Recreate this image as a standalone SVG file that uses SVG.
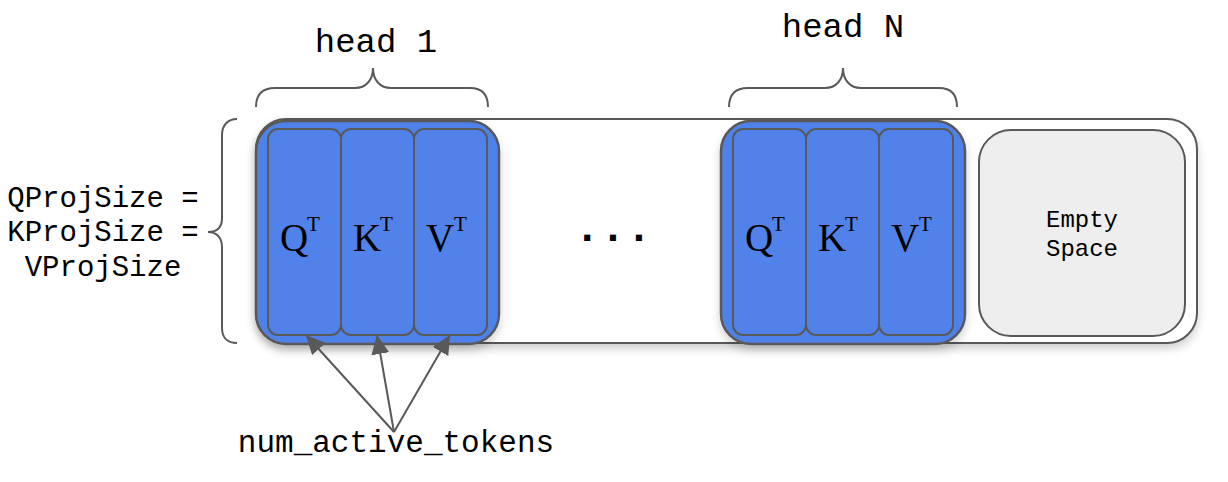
<svg xmlns="http://www.w3.org/2000/svg" width="1228" height="482" viewBox="0 0 1228 482">
<defs>
<filter id="sh" x="-10%" y="-10%" width="120%" height="130%">
<feDropShadow dx="0" dy="5" stdDeviation="4" flood-color="#000" flood-opacity="0.18"/>
</filter>
<marker id="ah" markerUnits="userSpaceOnUse" markerWidth="22" markerHeight="18" refX="19" refY="9" orient="auto">
<path d="M0,0 L19,9 L0,18 Z" fill="#595959"/>
</marker>
<style>
.st{stroke:#595959;stroke-width:2;}
.grp{fill:#5082e9;stroke:#595959;stroke-width:2.5;}
.cell{fill:#5082e9;stroke:#595959;stroke-width:2;}
.brace{fill:none;stroke:#595959;stroke-width:2;}
.mono{font-family:"Liberation Mono","Courier New",monospace;fill:#000;}
.ser{font-family:"Liberation Serif","Times New Roman",serif;fill:#000;}
.big{font-size:39px;}
.sup{font-size:21px;}
</style>
</defs>
<rect width="1228" height="482" fill="#fff"/>

<g id="container">
<rect x="256" y="119" width="941" height="224" rx="30" fill="#fff" class="st" filter="url(#sh)"/>
</g>

<g id="head1">
<rect x="256" y="121" width="243" height="223" rx="30" class="grp" filter="url(#sh)"/>
<rect x="268" y="129" width="73" height="206" rx="10" class="cell"/>
<rect x="341" y="129" width="73" height="206" rx="10" class="cell"/>
<rect x="414" y="129" width="73" height="206" rx="10" class="cell"/>
<text x="280" y="251" class="ser big">Q</text><text x="307" y="231" class="ser sup">T</text>
<text x="353" y="251" class="ser big">K</text><text x="380" y="231" class="ser sup">T</text>
<text x="426" y="251" class="ser big">V</text><text x="454" y="231" class="ser sup">T</text>
</g>

<g id="dots">
<text x="613" y="241" text-anchor="middle" class="mono" font-size="43" font-weight="bold">...</text>
</g>

<g id="headN">
<rect x="721" y="121" width="244" height="223" rx="30" class="grp" filter="url(#sh)"/>
<rect x="733" y="129" width="73" height="206" rx="10" class="cell"/>
<rect x="806" y="129" width="73" height="206" rx="10" class="cell"/>
<rect x="879" y="129" width="74" height="206" rx="10" class="cell"/>
<text x="745" y="251" class="ser big">Q</text><text x="772" y="231" class="ser sup">T</text>
<text x="818" y="251" class="ser big">K</text><text x="845" y="231" class="ser sup">T</text>
<text x="891" y="251" class="ser big">V</text><text x="919" y="231" class="ser sup">T</text>
</g>

<g id="empty">
<rect x="979" y="130" width="206" height="206" rx="32" fill="#eeeeee" class="st"/>
<text x="1082" y="227" text-anchor="middle" class="mono" font-size="24">Empty</text>
<text x="1082" y="256" text-anchor="middle" class="mono" font-size="24">Space</text>
</g>

<g id="brace-head1">
<path class="brace" d="M256,107 C256,95 262,88 275,88 L355,88 C366,88 373,80 373,68 C373,80 380,88 391,88 L470,88 C482,88 488,95 488,107"/>
<text x="376" y="52" text-anchor="middle" class="mono" font-size="34">head 1</text>
</g>

<g id="brace-headN">
<path class="brace" d="M729,107 C729,95 735,88 748,88 L825,88 C836,88 843,80 843,68 C843,80 850,88 861,88 L939,88 C951,88 957,95 957,107"/>
<text x="843" y="37" text-anchor="middle" class="mono" font-size="34">head N</text>
</g>

<g id="brace-left">
<path class="brace" d="M237,119 C228,119 222,125 222,135 L222,218 C222,228 216,232 208,232 C216,232 222,237 222,247 L222,328 C222,338 228,343 237,343"/>
<text text-anchor="middle" class="mono" font-size="29"><tspan x="103" y="207">QProjSize =</tspan><tspan x="103" y="241">KProjSize =</tspan><tspan x="103" y="276">VProjSize</tspan></text>
</g>

<g id="connectors">
<line x1="394" y1="432" x2="306" y2="335" class="st" marker-end="url(#ah)"/>
<line x1="394" y1="432" x2="377" y2="335" class="st" marker-end="url(#ah)"/>
<line x1="394" y1="432" x2="450" y2="335" class="st" marker-end="url(#ah)"/>
</g>

<g id="tokens">
<text x="396" y="452" text-anchor="middle" class="mono" font-size="31">num_active_tokens</text>
</g>
</svg>
